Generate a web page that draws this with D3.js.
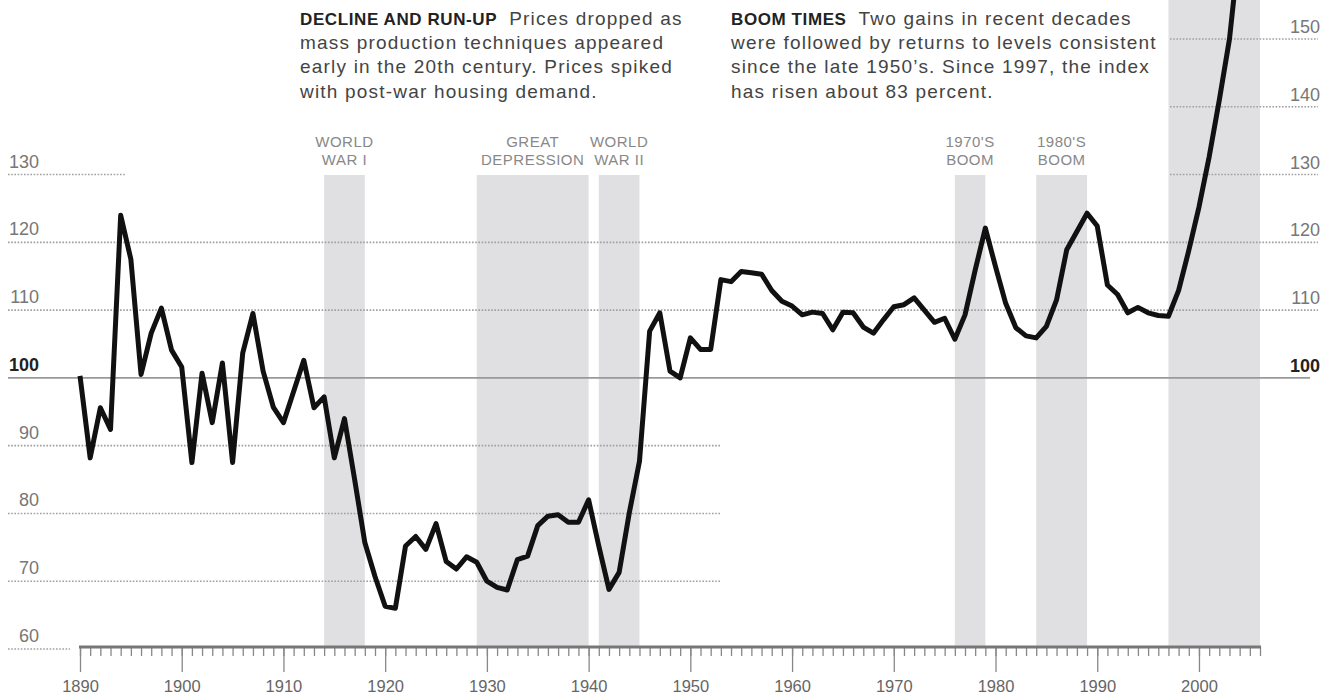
<!DOCTYPE html>
<html>
<head>
<meta charset="utf-8">
<script src="https://cdn.jsdelivr.net/npm/d3@7"></script>
<style>
  body { margin: 0; background: #fff; }
  svg { display: block; font-family: "Liberation Sans", Arial, sans-serif; }
</style>
</head>
<body>
<div id="chart"></div>
<script>
// home price index, 1890 = 100
var firstYear = 1890;
var indexValues = [
  100.3, 88.2, 95.6, 92.4, 124, 117.5, 100.5, 106.6, 110.3, 104.1,   // 1890s
  101.6, 87.5, 100.7, 93.4, 102.2, 87.5, 103.7, 109.5, 101, 95.7,    // 1900s
  93.4, 98, 102.6, 95.6, 97.2, 88.2, 94, 85, 75.7, 70.7,             // 1910s
  66.3, 66, 75.2, 76.6, 74.7, 78.5, 72.9, 71.8, 73.6, 72.8,          // 1920s
  70, 69.1, 68.7, 73.2, 73.7, 78.2, 79.6, 79.8, 78.7, 78.7,          // 1930s
  82, 75.2, 68.8, 71.3, 80.1, 87.7, 106.9, 109.6, 101, 100,          // 1940s
  105.9, 104.2, 104.2, 114.5, 114.2, 115.7, 115.5, 115.3, 112.9, 111.3, // 1950s
  110.6, 109.3, 109.7, 109.5, 107.1, 109.7, 109.6, 107.5, 106.6, 108.6, // 1960s
  110.5, 110.8, 111.8, 110, 108.2, 108.8, 105.7, 109.3, 115.9, 122.1,   // 1970s
  116.4, 111, 107.4, 106.2, 105.9, 107.6, 111.5, 118.9, 121.6, 124.3,   // 1980s
  122.4, 113.7, 112.3, 109.6, 110.4, 109.6, 109.2, 109.1, 112.9, 118.8, // 1990s
  125.2, 132.6, 141, 150, 164, 183, 199                                  // 2000s
];
var years = d3.range(firstYear, firstYear + indexValues.length);

// shaded periods
var periodLabels = [["WORLD", "WAR I"], ["GREAT", "DEPRESSION"], ["WORLD", "WAR II"],
                    ["1970'S", "BOOM"], ["1980'S", "BOOM"], null];
var periodStart = [1914, 1929, 1941, 1976, 1984, 1997];
var periodEnd   = [1918, 1940, 1945, 1979, 1989, 2006];

var leftTicks  = [130, 120, 110, 100, 90, 80, 70, 60];
var rightTicks = [150, 140, 130, 120, 110, 100];
var decadeTicks = [1890, 1900, 1910, 1920, 1930, 1940, 1950, 1960, 1970, 1980, 1990, 2000];

var notes = [
  { title: "DECLINE AND RUN-UP", lines: ["Prices dropped as", "mass production techniques appeared",
      "early in the 20th century. Prices spiked", "with post-war housing demand."] },
  { title: "BOOM TIMES", lines: ["Two gains in recent decades", "were followed by returns to levels consistent",
      "since the late 1950\u2019s. Since 1997, the index", "has risen about 83 percent."] }
];

var width = 1323, height = 696;

var x = d3.scaleLinear().domain([1890, 2006]).range([80, 1260]);
var y = d3.scaleLinear().domain([60, 150]).range([649, 39]);

var svg = d3.select("#chart").append("svg")
  .attr("width", width)
  .attr("height", height);

// bands
var bands = svg.append("g");
periodStart.forEach(function(s, i) {
  var top = periodLabels[i] ? 175 : 0;
  var cx = (x(s) + x(periodEnd[i])) / 2;
  bands.append("rect")
    .attr("x", x(s))
    .attr("y", top)
    .attr("width", x(periodEnd[i]) - x(s))
    .attr("height", y(60) - 2 - top)
    .attr("fill", "#e0e0e3");
  if (periodLabels[i]) {
    var t = bands.append("text")
      .attr("text-anchor", "middle")
      .attr("font-size", 15)
      .attr("letter-spacing", 0.5)
      .attr("fill", "#888");
    t.append("tspan").attr("x", cx).attr("y", 147).text(periodLabels[i][0]);
    t.append("tspan").attr("x", cx).attr("y", 165).text(periodLabels[i][1]);
  }
});

// gridlines
function gridEnd(v) {
  if (v === 130) return 125;
  if (v === 60) return 70;
  if (v < 100) return 720;
  return 1318;
}
var grid = svg.append("g");
leftTicks.forEach(function(v) {
  grid.append("line")
    .attr("x1", 8).attr("x2", v === 100 ? 1310 : gridEnd(v))
    .attr("y1", y(v)).attr("y2", y(v))
    .attr("stroke", v === 100 ? "#999" : "#a0a0a0")
    .attr("stroke-width", 1.6)
    .attr("stroke-dasharray", v === 100 ? null : "1.6,1.6");
  grid.append("text")
    .attr("x", 39).attr("y", y(v) - 7)
    .attr("text-anchor", "end")
    .attr("font-size", 18)
    .attr("font-weight", v === 100 ? "bold" : "normal")
    .attr("fill", v === 100 ? "#222" : "#777")
    .text(v);
});
rightTicks.forEach(function(v) {
  if (v > 120) {
    grid.append("line")
      .attr("x1", 1170).attr("x2", 1318)
      .attr("y1", y(v)).attr("y2", y(v))
      .attr("stroke", "#a0a0a0")
      .attr("stroke-width", 1.6)
      .attr("stroke-dasharray", "1.6,1.6");
  }
  grid.append("text")
    .attr("x", 1320).attr("y", y(v) - 6)
    .attr("text-anchor", "end")
    .attr("font-size", 18)
    .attr("font-weight", v === 100 ? "bold" : "normal")
    .attr("fill", v === 100 ? "#222" : "#777")
    .text(v);
});

// x axis
var axisY = 647;
var minor = svg.append("g")
  .attr("transform", "translate(0," + axisY + ")")
  .call(d3.axisBottom(x).tickValues(d3.range(1890, 2007)).tickSize(9).tickSizeOuter(0).tickFormat(""));
var major = svg.append("g")
  .attr("transform", "translate(0," + axisY + ")")
  .call(d3.axisBottom(x).tickValues(decadeTicks).tickSize(25).tickSizeOuter(0).tickFormat(d3.format("d")));
[minor, major].forEach(function(g) {
  g.select(".domain").remove();
  g.selectAll(".tick line").attr("stroke", "#888").attr("stroke-width", 1.3);
});
major.selectAll(".tick text")
  .attr("y", 45).attr("dy", 0)
  .attr("font-size", 16.5)
  .attr("font-family", "Liberation Sans, Arial, sans-serif")
  .attr("fill", "#666");
svg.append("line")
  .attr("x1", x(1890) - 1).attr("x2", x(2006) + 1)
  .attr("y1", axisY).attr("y2", axisY)
  .attr("stroke", "#777").attr("stroke-width", 3);

// line
var line = d3.line()
  .x(function(d, i) { return x(years[i]); })
  .y(function(d) { return y(d); });
svg.append("path")
  .datum(indexValues)
  .attr("d", line)
  .attr("fill", "none")
  .attr("stroke", "#111")
  .attr("stroke-width", 5)
  .attr("stroke-linejoin", "round");

// notes
var noteX = [300, 731];
notes.forEach(function(n, i) {
  var g = svg.append("g").attr("fill", "#444");
  var first = g.append("text").attr("x", noteX[i]).attr("y", 25)
    .attr("font-size", 19).attr("letter-spacing", 1.2);
  first.append("tspan")
    .attr("font-weight", "bold").attr("fill", "#222")
    .attr("font-size", 17).attr("letter-spacing", 0.6)
    .text(n.title);
  first.append("tspan").attr("dx", 12).text(n.lines[0]);
  n.lines.slice(1).forEach(function(l, j) {
    g.append("text").attr("x", noteX[i]).attr("y", 49 + j * 24.3)
      .attr("font-size", 19).attr("letter-spacing", 1.2)
      .text(l);
  });
});
</script>
</body>
</html>
